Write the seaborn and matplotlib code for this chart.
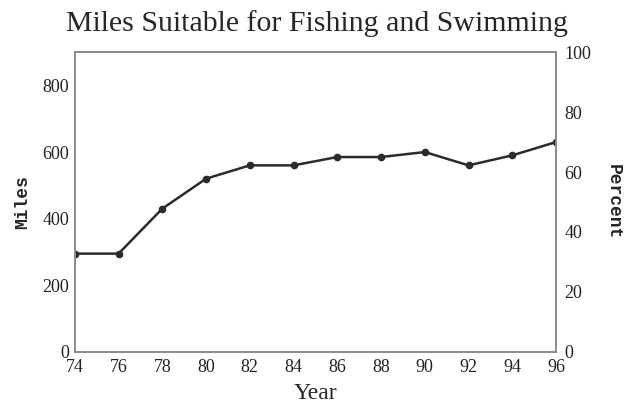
import numpy as np
import pandas as pd
import seaborn as sns
import matplotlib.pyplot as plt

# Data
years = [74, 76, 78, 80, 82, 84, 86, 88, 90, 92, 94, 96]
miles = [295, 295, 430, 520, 560, 560, 585, 585, 600, 560, 590, 630]
year_ticks = [74, 76, 78, 80, 82, 84, 86, 88, 90, 92, 94, 96]
mile_ticks = [0, 200, 400, 600, 800]
pct_ticks = [0, 20, 40, 60, 80, 100]

sns.set_style("white")
plt.rcParams['font.family'] = ['Liberation Serif', 'DejaVu Serif']

df = pd.DataFrame({"Year": years, "Miles": miles})

fig = plt.figure(figsize=(6.34, 4.04), dpi=100)
ax = fig.add_axes([0.118, 0.129, 0.759, 0.742])

sns.lineplot(data=df, x="Year", y="Miles", ax=ax, color="#2b2b2b",
             linewidth=1.8, marker="o", markersize=5.5, markeredgewidth=0)
ax.set_xlim(74, 96)
ax.set_ylim(0, 900)
ax.set_xticks(year_ticks)
ax.set_yticks(mile_ticks)
ax.tick_params(axis="y", labelsize=13, length=0, pad=4, colors="#222222")
ax.tick_params(axis="x", labelsize=13, length=0, pad=5, colors="#222222")
ax.set_xlabel("Year", fontsize=17, labelpad=5)
ax.set_ylabel("Miles", fontsize=13, labelpad=8,
              family=["Liberation Mono", "DejaVu Sans Mono"], weight="bold")

ax2 = ax.twinx()
ax2.set_ylim(0, 100)
ax2.set_yticks(pct_ticks)
ax2.tick_params(labelsize=13, length=0, pad=6, colors="#222222")
ax2.set_ylabel("Percent", fontsize=13, rotation=270, labelpad=22,
               family=["Liberation Mono", "DejaVu Sans Mono"], weight="bold")

for a in (ax, ax2):
    for s in a.spines.values():
        s.set_color("#8a8a8a")
        s.set_linewidth(1.2)

fig.suptitle("Miles Suitable for Fishing and Swimming", fontsize=21.5, y=0.975)

fig.savefig("out.png", dpi=100)
